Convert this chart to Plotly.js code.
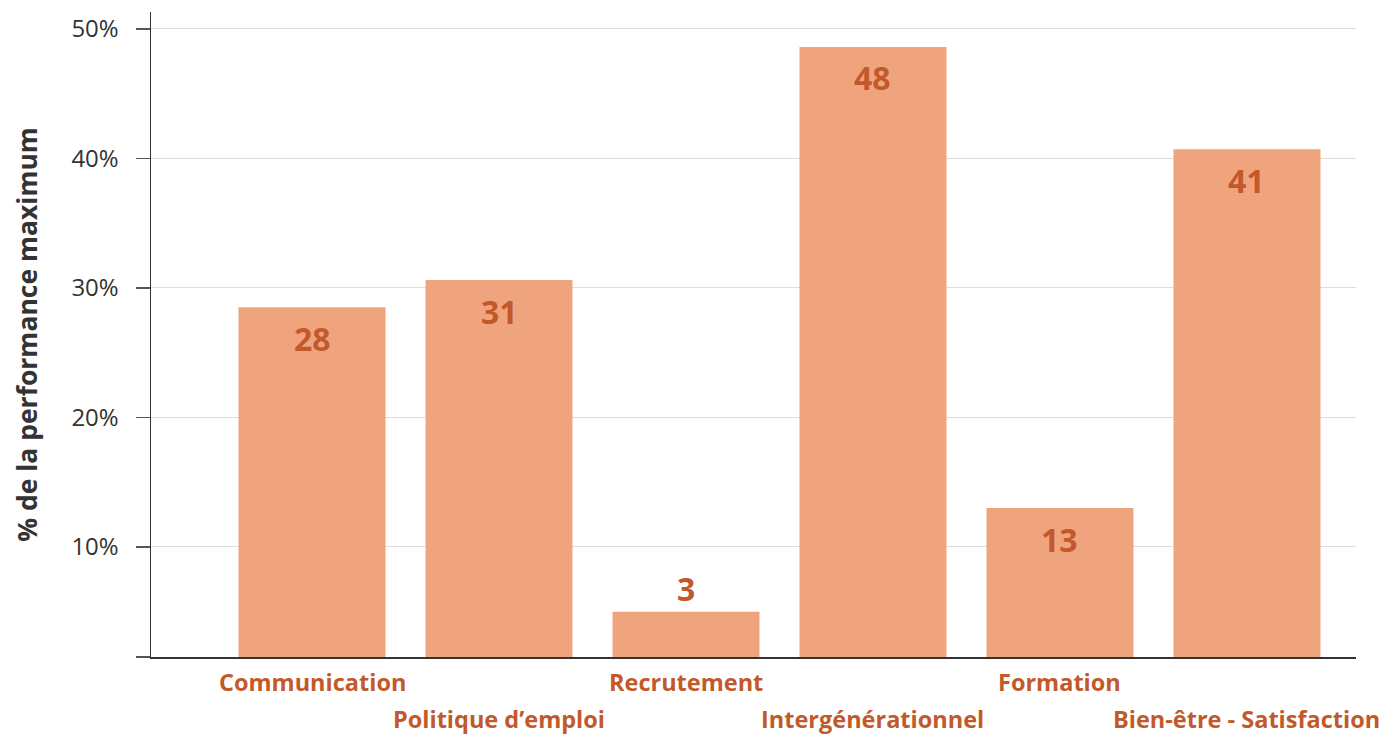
<!DOCTYPE html>
<html>
<head>
<meta charset="utf-8">
<script src="https://cdn.plot.ly/plotly-3.0.1.min.js"></script>
<style>html,body{margin:0;padding:0;background:#fff;}#chart{width:1382px;height:736px;}</style>
</head>
<body>
<div id="chart"></div>
<script>
const categories = ["Communication", "Politique d’emploi", "Recrutement", "Intergénérationnel", "Formation", "Bien-être - Satisfaction"];
const barValues = [28.5, 30.6, 5.0, 48.6, 13.0, 40.7];
const barLabels = ["28", "31", "3", "48", "13", "41"];
const yTickValues = [10, 20, 30, 40, 50];
const yTickLabels = ["10%", "20%", "30%", "40%", "50%"];

const Y_MIN = 1.5, Y_MAX = 51.3;
const BAR = "#F0A47E", ACCENT = "#C2592B", INK = "#333333";
const FONT = "Open Sans, Lato, sans-serif";

const xIdx = categories.map((_, i) => i);

const annotations = [];
barValues.forEach((v, i) => {
  const outside = v < 8;
  annotations.push({
    x: i, y: v, xref: "x", yref: "y", text: "<b>" + barLabels[i] + "</b>",
    showarrow: false, yanchor: "middle", yshift: outside ? 23 : -31,
    font: {family: FONT, size: 32, color: ACCENT}
  });
});
categories.forEach((c, i) => {
  annotations.push({
    x: i, y: 0, xref: "x", yref: "paper", text: "<b>" + c + "</b>",
    showarrow: false, yanchor: "middle", yshift: (i % 2 === 0) ? -25 : -62,
    font: {family: FONT, size: 23.5, color: ACCENT}
  });
});

const data = [{
  type: "bar", x: xIdx, y: barValues, base: 0,
  marker: {color: BAR}, width: 0.786, hoverinfo: "skip"
}];

const layout = {
  width: 1382, height: 736,
  margin: {l: 151, r: 26, t: 12, b: 79},
  paper_bgcolor: "#fff", plot_bgcolor: "#fff",
  showlegend: false,
  font: {family: FONT, color: INK},
  xaxis: {
    range: [-0.861, 5.583], showticklabels: false, ticks: "",
    showgrid: false, zeroline: false, showline: true, linecolor: INK, linewidth: 1.5,
    fixedrange: true
  },
  yaxis: {
    range: [Y_MIN, Y_MAX],
    tickvals: [Y_MIN].concat(yTickValues), ticktext: [""].concat(yTickLabels),
    ticks: "outside", ticklen: 14, tickcolor: "#555", tickwidth: 1.5,
    tickfont: {family: FONT, size: 24, color: INK},
    ticklabelstandoff: 12,
    showgrid: true, gridcolor: "#dddddd", gridwidth: 1,
    zeroline: false, showline: true, linecolor: INK, linewidth: 1.5,
    title: {text: "<b>% de la performance maximum</b>", font: {family: FONT, size: 26.5, color: INK}, standoff: 26},
    fixedrange: true
  },
  annotations: annotations
};

Plotly.newPlot("chart", data, layout, {displayModeBar: false, staticPlot: true});
</script>
</body>
</html>
